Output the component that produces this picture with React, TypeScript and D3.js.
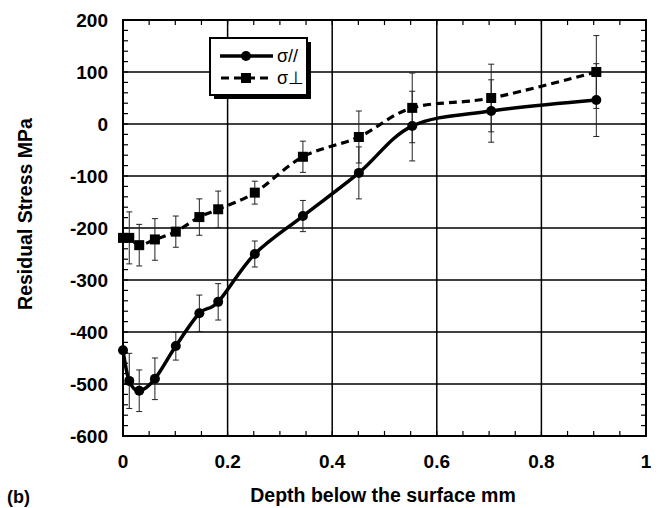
import React from "react";
import * as d3 from "d3";

const depth = [0, 0.012, 0.031, 0.061, 0.101, 0.146, 0.182, 0.252, 0.344, 0.451, 0.553, 0.704, 0.905];
const sigmaPar = [-435, -494, -513, -490, -427, -364, -342, -250, -177, -94, -4, 25, 46];
const errPar = [0, 53, 40, 40, 27, 35, 35, 25, 30, 50, 67, 60, 70];
const sigmaPerp = [-219, -219, -233, -222, -207, -179, -164, -132, -63, -25, 31, 50, 100];
const errPerp = [0, 50, 40, 40, 30, 35, 35, 22, 30, 50, 67, 65, 70];
const xTicks = [0, 0.2, 0.4, 0.6, 0.8, 1];
const xTickLabels = ["0", "0.2", "0.4", "0.6", "0.8", "1"];
const yTicks = [-600, -500, -400, -300, -200, -100, 0, 100, 200];
const legendLabels = ["σ//", "σ⊥"];

const FONT = "'Liberation Sans', Arial, Helvetica, sans-serif";

export default function App() {
  const x = d3.scaleLinear().domain([0, 1]).range([123, 646]);
  const y = d3.scaleLinear().domain([-600, 200]).range([436, 20]);
  const [x0, x1] = x.range();
  const [yb, yt] = y.range();

  const curve = d3.curveCatmullRom.alpha(0);
  const parPath =
    d3
      .line<number>()
      .x((_, i) => x(depth[i]))
      .y((_, i) => y(sigmaPar[i]))
      .curve(curve)(sigmaPar) || "";
  const perpPath =
    d3
      .line<number>()
      .x((_, i) => x(depth[i]))
      .y((_, i) => y(sigmaPerp[i]))
      .curve(curve)(sigmaPerp) || "";

  const xMinor = d3.range(0, 1.0001, 0.05);
  const yMinor = d3.range(-600, 200.1, 20);
  const tl = 5;

  const errBars = (vals: number[], errs: number[], key: string) =>
    vals.map((v, i) => {
      if (!errs[i]) return null;
      const cx = x(depth[i]);
      const top = y(v + errs[i]);
      const bot = y(v - errs[i]);
      return (
        <g key={key + i} stroke="#222" strokeWidth={1}>
          <line x1={cx} x2={cx} y1={top} y2={bot} />
          <line x1={cx - 3} x2={cx + 3} y1={top} y2={top} />
          <line x1={cx - 3} x2={cx + 3} y1={bot} y2={bot} />
        </g>
      );
    });

  return (
    <svg
      width={660}
      height={508}
      style={{ position: "absolute", left: 0, top: 0, background: "#fff" }}
      fontFamily={FONT}
    >
      <rect x={0} y={0} width={660} height={508} fill="#fff" />
      {/* gridlines */}
      {xTicks.slice(1, -1).map((t) => (
        <line key={"gx" + t} x1={x(t)} x2={x(t)} y1={yb} y2={yt} stroke="#000" strokeWidth={1.5} />
      ))}
      {yTicks.slice(1, -1).map((t) => (
        <line key={"gy" + t} x1={x0} x2={x1} y1={y(t)} y2={y(t)} stroke="#000" strokeWidth={1.5} />
      ))}
      {/* minor ticks */}
      {xMinor.map((t) => (
        <g key={"mx" + t} stroke="#000" strokeWidth={1.2}>
          <line x1={x(t)} x2={x(t)} y1={yb} y2={yb - tl} />
          <line x1={x(t)} x2={x(t)} y1={yt} y2={yt + tl} />
        </g>
      ))}
      {yMinor.map((t) => (
        <g key={"my" + t} stroke="#000" strokeWidth={1.2}>
          <line x1={x0} x2={x0 + tl} y1={y(t)} y2={y(t)} />
          <line x1={x1} x2={x1 - tl} y1={y(t)} y2={y(t)} />
        </g>
      ))}
      {/* frame */}
      <rect x={x0} y={yt} width={x1 - x0} height={yb - yt} fill="none" stroke="#000" strokeWidth={2} />

      {/* error bars */}
      {errBars(sigmaPerp, errPerp, "ep")}
      {errBars(sigmaPar, errPar, "ea")}

      {/* lines */}
      <path d={perpPath} fill="none" stroke="#000" strokeWidth={3.2} strokeDasharray="8 5" />
      <path d={parPath} fill="none" stroke="#000" strokeWidth={3.5} />

      {/* markers */}
      {sigmaPerp.map((v, i) => (
        <rect key={"sq" + i} x={x(depth[i]) - 5} y={y(v) - 5} width={10} height={10} fill="#000" />
      ))}
      {sigmaPar.map((v, i) => (
        <circle key={"ci" + i} cx={x(depth[i])} cy={y(v)} r={5} fill="#000" />
      ))}

      {/* tick labels */}
      {yTicks.map((t) => (
        <text
          key={"ly" + t}
          x={108}
          y={y(t)}
          dy="0.35em"
          textAnchor="end"
          fontSize={19}
          fontWeight="bold"
        >
          {t}
        </text>
      ))}
      {xTicks.map((t, i) => (
        <text key={"lx" + t} x={x(t)} y={468} textAnchor="middle" fontSize={19} fontWeight="bold">
          {xTickLabels[i]}
        </text>
      ))}

      {/* axis titles */}
      <text
        transform={`translate(32, ${(yt + yb) / 2 - 14}) rotate(-90)`}
        textAnchor="middle"
        fontSize={19.5}
        fontWeight="bold"
      >
        Residual Stress MPa
      </text>
      <text x={383} y={502} textAnchor="middle" fontSize={19.5} fontWeight="bold">
        Depth below the surface mm
      </text>
      <text x={7} y={503} fontSize={18} fontWeight="bold">
        (b)
      </text>

      {/* legend */}
      <rect x={214} y={42} width={97} height={57} fill="#000" />
      <rect x={210} y={38} width={97} height={57} fill="#fff" stroke="#000" strokeWidth={2} />
      <line x1={220} x2={273} y1={56} y2={56} stroke="#000" strokeWidth={3.5} />
      <circle cx={246} cy={56} r={5} fill="#000" />
      <line x1={220} x2={273} y1={78} y2={78} stroke="#000" strokeWidth={3.2} strokeDasharray="8 5" strokeDashoffset={-1} />
      <rect x={241} y={73} width={10} height={10} fill="#000" />
      <text x={277} y={56} dy="0.35em" fontSize={18}>
        {legendLabels[0]}
      </text>
      <text x={277} y={78} dy="0.35em" fontSize={18}>
        {legendLabels[1]}
      </text>
    </svg>
  );
}
